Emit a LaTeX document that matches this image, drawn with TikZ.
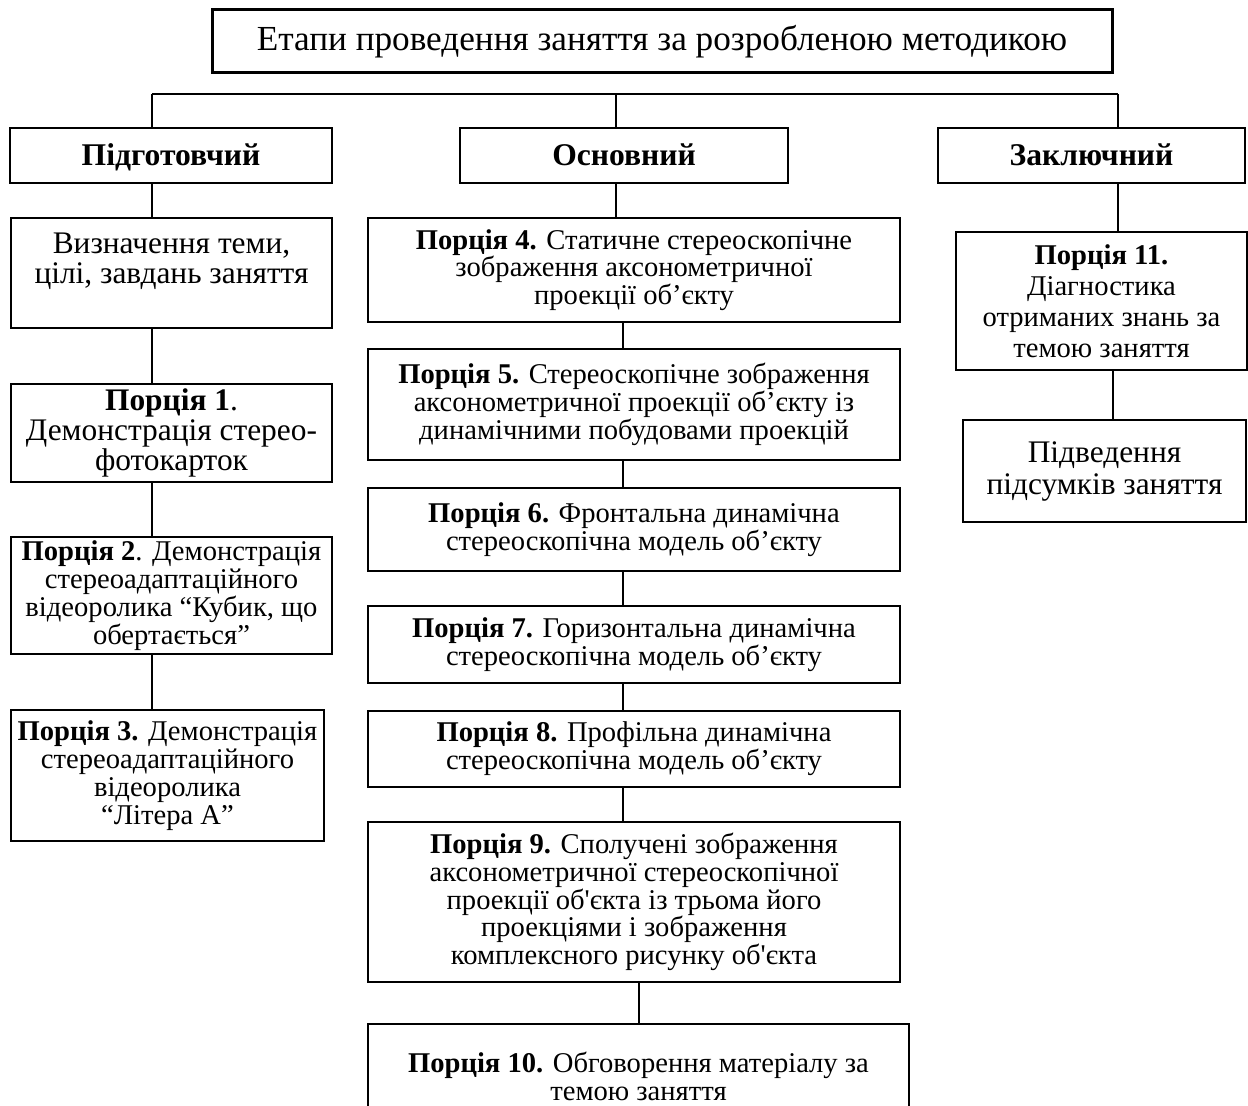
\documentclass[tikz,border=0pt]{standalone}
\usepackage{fontspec}
\setmainfont{Liberation Serif}[Ligatures=TeXOff]
\usetikzlibrary{positioning,calc}
\newcommand{\bodysize}{\fontsize{14.3}{13.9}\selectfont}
\newcommand{\loosesize}{\fontsize{14.3}{15.5}\selectfont}
\newcommand{\largesize}{\fontsize{15.7}{14.8}\selectfont}
\newcommand{\headsize}{\fontsize{15.8}{16}\selectfont}
\newcommand{\titlesize}{\fontsize{17.6}{18}\selectfont}

\begin{document}
\begin{tikzpicture}[x=0.5pt, y=-0.5pt,
  box/.style={draw, line width=1pt, align=center, inner sep=0pt, font=\bodysize},
  bigbox/.style={box, font=\largesize},
  stage/.style={box, line width=1.3pt, font=\headsize\bfseries, minimum height=27.5pt,
    text height=10.5pt, text depth=0pt},
  link/.style={line width=0.9pt}]
  \clip (0,0) rectangle (1248,1106);

  % Title
  \node[box, line width=1.5pt, font=\titlesize, minimum width=450pt, minimum height=31.5pt] (title) at (662,41.5) {Етапи проведення заняття за розробленою методикою};

  % Stages
  \node[stage, minimum width=161pt] (prep) at (171,155.5) {Підготовчий};
  \node[stage, minimum width=164pt] (main) at (624,155.5) {Основний};
  \node[stage, minimum width=153.5pt] (final) at (1091.5,155.5) {Заключний};

  % Preparatory column
  \node[bigbox, minimum width=160.5pt, minimum height=55pt] (goal) at (171.5,273) {Визначення теми,\\цілі, завдань заняття\\~};
  \node[bigbox, minimum width=160.5pt, minimum height=49pt] (p1) at (171.5,433) {\textbf{Порція 1}.\\Демонстрація стерео-\\фотокарток};
  \node[box, minimum width=160.5pt, minimum height=58.5pt] (p2) at (171.5,595.5) {\textbf{Порція 2}. Демонстрація\\стереоадаптаційного\\відеоролика “Кубик, що\\обертається”};
  \node[box, minimum width=156.5pt, minimum height=65.5pt] (p3) at (167.5,775.5) {\textbf{Порція 3.} Демонстрація\\стереоадаптаційного\\відеоролика\\“Літера А”};

  % Main column
  \node[box, minimum width=266pt, minimum height=52pt] (p4) at (634,270) {\textbf{Порція 4.} Статичне стереоскопічне\\зображення аксонометричної\\проекції об’єкту};
  \node[box, minimum width=266pt, minimum height=55.5pt] (p5) at (634,404.5) {\textbf{Порція 5.} Стереоскопічне зображення\\аксонометричної проекції об’єкту із\\динамічними побудовами проекцій};
  \node[box, minimum width=266pt, minimum height=41.5pt] (p6) at (634,529.5) {\textbf{Порція 6.} Фронтальна динамічна\\стереоскопічна модель об’єкту};
  \node[box, minimum width=266pt, minimum height=38.5pt] (p7) at (634,644.5) {\textbf{Порція 7.} Горизонтальна динамічна\\стереоскопічна модель об’єкту};
  \node[box, minimum width=266pt, minimum height=38pt] (p8) at (634,749) {\textbf{Порція 8.} Профільна динамічна\\стереоскопічна модель об’єкту};
  \node[box, minimum width=266pt, minimum height=80pt] (p9) at (634,902) {\textbf{Порція 9.} Сполучені зображення\\аксонометричної стереоскопічної\\проекції об'єкта із трьома його\\проекціями і зображення\\комплексного рисунку об'єкта};
  \node[box, minimum width=270.5pt, minimum height=52pt] (p10) at (638.5,1076) {\textbf{Порція 10.} Обговорення матеріалу за\\темою заняття};

  % Final column
  \node[box, font=\loosesize, minimum width=145.5pt, minimum height=69pt] (p11) at (1101.5,301) {\textbf{Порція 11.}\\Діагностика\\отриманих знань за\\темою заняття};
  \node[bigbox, font=\fontsize{15.7}{16}\selectfont, minimum width=141.5pt, minimum height=51pt] (summary) at (1104.5,471) {Підведення\\підсумків заняття};

  % Bus lines
  \coordinate (colA) at (152,94);
  \coordinate (colB) at (616,94);
  \coordinate (colC) at (1118,94);
  \coordinate (lineB) at (623,0);
  \coordinate (lineBb) at (639,0);
  \coordinate (lineC) at (1113,0);

  \draw[link] (colA) -- (colC);
  \draw[link] (colA) -- (colA |- prep.north);
  \draw[link] (colB) -- (colB |- main.north);
  \draw[link] (colC) -- (colC |- final.north);

  % Column connectors
  \foreach \a/\b in {prep/goal,goal/p1,p1/p2,p2/p3}
    \draw[link] (colA |- \a.south) -- (colA |- \b.north);
  \draw[link] (colB |- main.south) -- (colB |- p4.north);
  \foreach \a/\b in {p4/p5,p5/p6,p6/p7,p7/p8,p8/p9}
    \draw[link] (lineB |- \a.south) -- (lineB |- \b.north);
  \draw[link] (lineBb |- p9.south) -- (lineBb |- p10.north);
  \draw[link] (colC |- final.south) -- (colC |- p11.north);
  \draw[link] (lineC |- p11.south) -- (lineC |- summary.north);
\end{tikzpicture}
\end{document}
